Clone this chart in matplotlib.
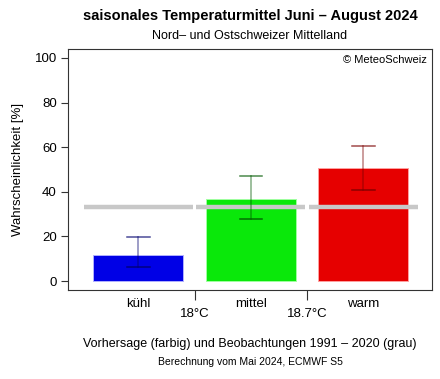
import matplotlib
matplotlib.use("Agg")
import matplotlib.pyplot as plt
from matplotlib.transforms import blended_transform_factory

plt.rcParams['font.family'] = ['Liberation Sans', 'DejaVu Sans']

categories = ["kühl", "mittel", "warm"]
forecast = [11.6, 36.9, 50.6]
err_low = [6.1, 28.0, 40.9]
err_high = [19.6, 47.0, 60.6]
climatology = [33.3, 33.3, 33.3]
thresholds = ["18°C", "18.7°C"]
colors = ["#0000E6", "#0AE80A", "#E60000"]
edge_colors = ["#b0b0ff", "#a0ffa0", "#ffa0a0"]
err_colors = ["#00006e", "#005a00", "#7a0000"]

fig = plt.figure(figsize=(4.4, 3.79), dpi=100)
ax = fig.add_axes([68/440, 1-290/379, (432.3-68)/440, (290-49)/379])

x = list(range(len(categories)))
ax.bar(x, forecast, width=0.8, color=colors, edgecolor=edge_colors, linewidth=0.7, zorder=2)
for xi, c in zip(x, climatology):
    ax.plot([xi-0.485, xi+0.485], [c, c], color="#c8c8c8", lw=3.2, solid_capstyle="butt", zorder=3)
for xi, lo, hi, ec in zip(x, err_low, err_high, err_colors):
    ax.plot([xi, xi], [lo, hi], color=ec, lw=1.2, alpha=0.45, zorder=4)
    ax.plot([xi-0.1, xi+0.1], [lo, lo], color=ec, lw=1.1, alpha=0.85, zorder=4)
    ax.plot([xi-0.1, xi+0.1], [hi, hi], color=ec, lw=1.1, alpha=0.7, zorder=4)

ax.set_xlim(-0.625, 2.613)
ax.set_ylim(-4, 104)
ax.set_yticks([0, 20, 40, 60, 80, 100])
ax.set_xticks([0.5, 1.5])
ax.set_xticklabels([])
ax.tick_params(axis='y', direction='out', length=5, width=0.8, color="#333333", labelsize=9.5, pad=3)
ax.tick_params(axis='x', direction='out', length=7, width=0.8, color="#333333")
for s in ax.spines.values():
    s.set_color("#333333")
    s.set_linewidth(0.8)
ax.set_ylabel("Wahrscheinlichkeit [%]", fontsize=9.5, labelpad=8)

trans = blended_transform_factory(ax.transData, fig.transFigure)
for xi, cat in zip(x, categories):
    ax.text(xi, 1-304/379, cat, transform=trans, ha="center", va="center", fontsize=9.5)
for xi, t in zip([0.5, 1.5], thresholds):
    ax.text(xi, 1-314/379, t, transform=trans, ha="center", va="center", fontsize=9.5)

ax.text(0.985, 0.955, "© MeteoSchweiz", transform=ax.transAxes, ha="right", va="center", fontsize=8)

fig.text(250/440, 1-16/379, "saisonales Temperaturmittel Juni – August 2024", ha="center", va="center",
         fontsize=10.5, fontweight="bold")
fig.text(250/440, 1-36/379, "Nord– und Ostschweizer Mittelland", ha="center", va="center", fontsize=9)
fig.text(250/440, 1-344/379, "Vorhersage (farbig) und Beobachtungen 1991 – 2020 (grau)", ha="center",
         va="center", fontsize=9)
fig.text(250/440, 1-362/379, "Berechnung vom Mai 2024, ECMWF S5", ha="center", va="center", fontsize=7.5)

fig.savefig("out.png", dpi=100)
